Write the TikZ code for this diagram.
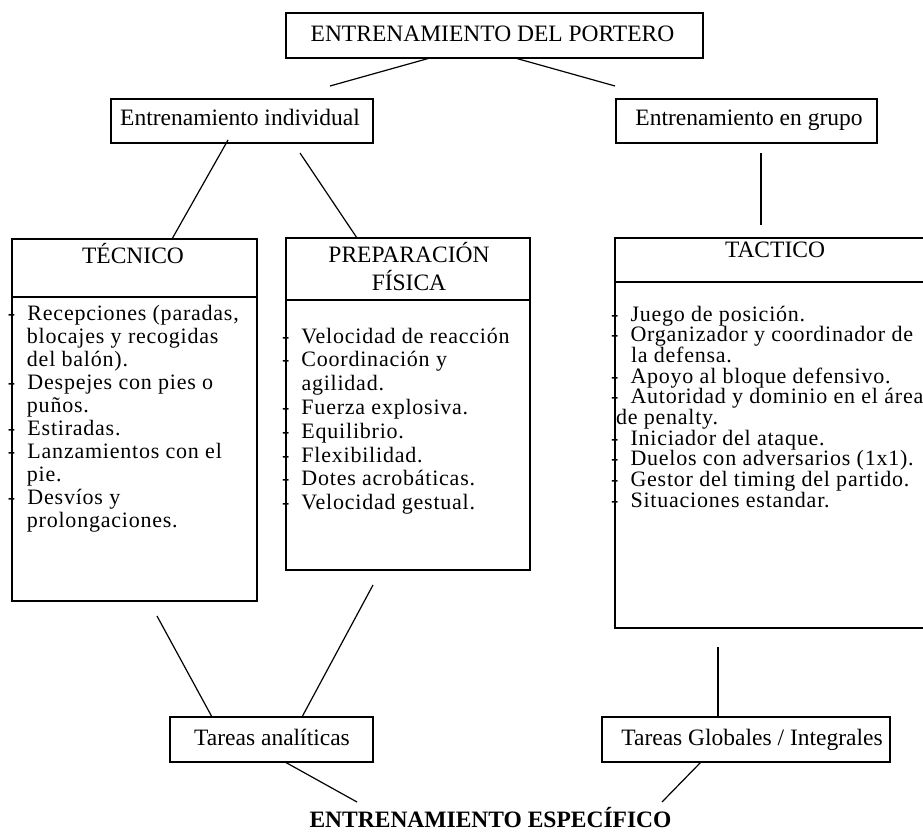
\documentclass[tikz,border=0pt]{standalone}
\usepackage{fontspec}
\setmainfont{Liberation Serif}
\newfontfamily\listfont[LetterSpace=3.5]{Liberation Serif}
\newcommand\dsh{\makebox[19.5pt][l]{-}}
\tikzset{
  box/.style={draw, line width=1.5pt, rectangle, inner sep=0pt, outer sep=0pt},
  div/.style={line width=1.5pt},
  conn/.style={line width=1.2pt},
  txt/.style={inner sep=0pt, outer sep=0pt, anchor=base west, font=\listfont\fontsize{22pt}{22pt}\selectfont},
  ttl/.style={inner sep=0pt, outer sep=0pt, anchor=base, font=\fontsize{23.5pt}{22pt}\selectfont},
}
\begin{document}
\begin{tikzpicture}[x=1pt,y=-1pt]
\useasboundingbox (0,0) rectangle (923,832);
\clip (0,0) rectangle (923,832);
% boxes
\node[box, minimum width=417pt, minimum height=45pt] (top) at (494.5,35.5) {};
\node[box, minimum width=262pt, minimum height=44pt] (ind) at (242,121) {};
\node[box, minimum width=261pt, minimum height=44pt] (grp) at (746.5,121) {};
\node[box, minimum width=245pt, minimum height=362pt] (tec) at (134.5,420) {};
\node[box, minimum width=244pt, minimum height=332pt] (prep) at (408,404) {};
\node[box, minimum width=320pt, minimum height=390pt] (tac) at (775,433) {};
\node[box, minimum width=203pt, minimum height=45pt] (ana) at (271.5,739.5) {};
\node[box, minimum width=288pt, minimum height=45pt] (glo) at (746,739.5) {};
% dividers
\draw[div] (12,297) -- (257,297);
\draw[div] (286,300) -- (530,300);
\draw[div] (615,282) -- (935,282);
% titles
\node[ttl] (ttop) at (492.5,41.7) {ENTRENAMIENTO DEL PORTERO};
\node[ttl] (tind) at (240,125) {Entrenamiento individual};
\node[ttl] (tgrp) at (749,125) {Entrenamiento en grupo};
\node[ttl] (ttec) at (133,263) {TÉCNICO};
\node[ttl] (tprep1) at (409,262) {PREPARACIÓN};
\node[ttl] (tprep2) at (409,290) {FÍSICA};
\node[ttl] (ttac) at (775,257) {TACTICO};
\node[ttl] (tana) at (272,745) {Tareas analíticas};
\node[ttl] (tglo) at (752,745) {Tareas Globales / Integrales};
\node[ttl, font=\fontsize{23.5pt}{22pt}\selectfont\bfseries] (esp) at (490.5,827) {ENTRENAMIENTO ESPECÍFICO};
% TECNICO list
\node[txt] (a0) at (8,320) {\dsh Recepciones (paradas,};
\node[txt] (a1) at (27,343) {blocajes y recogidas};
\node[txt] (a2) at (27,366) {del balón).};
\node[txt] (a3) at (8,389) {\dsh Despejes con pies o};
\node[txt] (a4) at (27,412) {puños.};
\node[txt] (a5) at (8,435) {\dsh Estiradas.};
\node[txt] (a6) at (8,458) {\dsh Lanzamientos con el};
\node[txt] (a7) at (27,481) {pie.};
\node[txt] (a8) at (8,504) {\dsh Desvíos y};
\node[txt] (a9) at (27,527) {prolongaciones.};
% PREP list
\node[txt] (b0) at (282,343) {\dsh Velocidad de reacción};
\node[txt] (b1) at (282,366.8) {\dsh Coordinación y};
\node[txt] (b2) at (301.5,390.6) {agilidad.};
\node[txt] (b3) at (282,414.4) {\dsh Fuerza explosiva.};
\node[txt] (b4) at (282,438.2) {\dsh Equilibrio.};
\node[txt] (b5) at (282,462) {\dsh Flexibilidad.};
\node[txt] (b6) at (282,485.8) {\dsh Dotes acrobáticas.};
\node[txt] (b7) at (282,509.6) {\dsh Velocidad gestual.};
% TACTICO list
\node[txt] (c0) at (611,321) {\dsh Juego de posición.};
\node[txt] (c1) at (611,341.7) {\dsh Organizador y coordinador de};
\node[txt] (c2) at (631,362.4) {la defensa.};
\node[txt] (c3) at (611,383.1) {\dsh Apoyo al bloque defensivo.};
\node[txt] (c4) at (611,403.8) {\dsh Autoridad y dominio en el área};
\node[txt] (c5) at (616,424.5) {de penalty.};
\node[txt] (c6) at (611,445.2) {\dsh Iniciador del ataque.};
\node[txt] (c7) at (611,465.9) {\dsh Duelos con adversarios (1x1).};
\node[txt] (c8) at (611,486.6) {\dsh Gestor del timing del partido.};
\node[txt] (c9) at (611,507.3) {\dsh Situaciones estandar.};
% connector end points
\coordinate (p1a) at (430,58);  \coordinate (p1b) at (330,86);
\coordinate (p2a) at (515,58);  \coordinate (p2b) at (615,86);
\coordinate (p3a) at (228,140); \coordinate (p3b) at (172,239);
\coordinate (p4a) at (300,153); \coordinate (p4b) at (357,238);
\coordinate (p5a) at (761,153); \coordinate (p5b) at (761,225);
\coordinate (p6a) at (157,616); \coordinate (p6b) at (212,717);
\coordinate (p7a) at (373,585); \coordinate (p7b) at (302,717);
\coordinate (p8a) at (718,647); \coordinate (p8b) at (718,717);
\coordinate (p9a) at (285,762); \coordinate (p9b) at (357,802);
\coordinate (p10a) at (701,762); \coordinate (p10b) at (662,802);
\draw[conn] (p1a) -- (p1b);
\draw[conn] (p2a) -- (p2b);
\draw[conn] (p3a) -- (p3b);
\draw[conn] (p4a) -- (p4b);
\draw[conn] (p5a) -- (p5b);
\draw[conn] (p6a) -- (p6b);
\draw[conn] (p7a) -- (p7b);
\draw[conn] (p8a) -- (p8b);
\draw[conn] (p9a) -- (p9b);
\draw[conn] (p10a) -- (p10b);
\end{tikzpicture}
\end{document}
